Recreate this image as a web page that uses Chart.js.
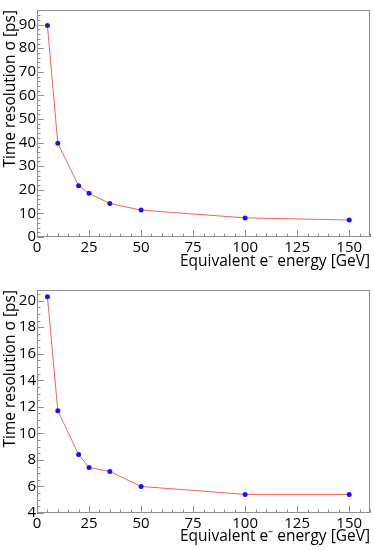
<!DOCTYPE html>
<html>
<head>
<meta charset="utf-8">
<script src="https://cdn.jsdelivr.net/npm/chart.js@4.4.1/dist/chart.umd.min.js"></script>
<style>
  body { margin: 0; background: #fff; }
  canvas { display: block; }
</style>
</head>
<body>
<canvas id="topChart" width="374" height="275"></canvas>
<canvas id="bottomChart" width="374" height="275"></canvas>
<script>
const energy = [5, 10, 20, 25, 35, 50, 100, 150];
const sigmaTop = [89.6, 39.7, 21.7, 18.5, 14.2, 11.4, 8.1, 7.2];
const sigmaBottom = [20.3, 11.7, 8.4, 7.43, 7.13, 6.0, 5.4, 5.4];

const xTitle = 'Equivalent e\u207B energy [GeV]';
const yTitle = 'Time resolution \u03C3 [ps]';

const FONT = 'Open Sans';

// ROOT-like frame with inward major/minor ticks on left and bottom
const rootFrame = {
    id: 'rootFrame',
    afterDraw(chart, args, opts) {
        const { ctx, chartArea: a, scales: { x, y } } = chart;
        ctx.save();
        ctx.strokeStyle = '#8f8f8f';
        ctx.lineWidth = 1;
        ctx.strokeRect(a.left + 0.5, a.top + 0.5, a.width - 1, a.height - 1);
        ctx.beginPath();
        // x ticks
        const nx = Math.round((x.max - x.min) / opts.xMinor);
        for (let i = 0; i <= nx; i++) {
            const v = x.min + i * opts.xMinor;
            const px = Math.round(x.getPixelForValue(v)) + 0.5;
            const len = (i % opts.xPer === 0) ? 7 : 3.5;
            ctx.moveTo(px, a.bottom);
            ctx.lineTo(px, a.bottom - len);
        }
        // y ticks
        const ny = Math.floor((y.max - y.min) / opts.yMinor + 1e-6);
        for (let i = 0; i <= ny; i++) {
            const v = y.min + i * opts.yMinor;
            const py = Math.round(y.getPixelForValue(v)) + 0.5;
            const len = (i % opts.yPer === 0) ? 7 : 3.5;
            ctx.moveTo(a.left, py);
            ctx.lineTo(a.left + len, py);
        }
        ctx.stroke();
        ctx.restore();
    }
};

function makeChart(id, values, yMin, yMax, yStep, yMinor, padTop, xHeight) {
    const ctx = document.getElementById(id).getContext('2d');
    return new Chart(ctx, {
        type: 'scatter',
        data: {
            datasets: [{
                data: energy.map((e, i) => ({ x: e, y: values[i] })),
                showLine: true,
                borderColor: '#f0645a',
                borderWidth: 1,
                pointBackgroundColor: '#1414ff',
                pointBorderColor: '#1414ff',
                pointRadius: 2.5,
                pointBorderWidth: 0
            }]
        },
        options: {
            responsive: false,
            animation: false,
            layout: { padding: { top: padTop, right: 4, left: 0, bottom: 0 } },
            plugins: {
                legend: { display: false },
                tooltip: { enabled: false },
                rootFrame: { xMinor: 5, xPer: 5, yMinor: yMinor, yPer: Math.round(yStep / yMinor) }
            },
            scales: {
                x: {
                    type: 'linear',
                    min: 0,
                    max: 160,
                    grid: { display: false, drawTicks: false },
                    border: { display: false },
                    ticks: {
                        stepSize: 25,
                        includeBounds: false,
                        padding: 2,
                        color: '#000',
                        font: { family: FONT, size: 15 },
                        maxRotation: 0
                    },
                    title: {
                        display: true,
                        text: xTitle,
                        align: 'end',
                        color: '#000',
                        font: { family: FONT, size: 15.5 },
                        padding: { top: 0, bottom: 4 }
                    },
                    afterFit(scale) { scale.height = xHeight; }
                },
                y: {
                    min: yMin,
                    max: yMax,
                    grid: { display: false, drawTicks: false },
                    border: { display: false },
                    ticks: {
                        stepSize: yStep,
                        includeBounds: false,
                        padding: 1,
                        color: '#000',
                        font: { family: FONT, size: 15 }
                    },
                    title: {
                        display: true,
                        text: yTitle,
                        align: 'end',
                        color: '#000',
                        font: { family: FONT, size: 15.5 },
                        padding: { top: 1, bottom: 0 }
                    },
                    afterFit(scale) { scale.width = 37; }
                }
            }
        },
        plugins: [rootFrame]
    });
}

makeChart('topChart', sigmaTop, 0, 96.2, 10, 2, 3, 38);
makeChart('bottomChart', sigmaBottom, 4, 20.8, 2, 0.5, 15, 37);
</script>
</body>
</html>
